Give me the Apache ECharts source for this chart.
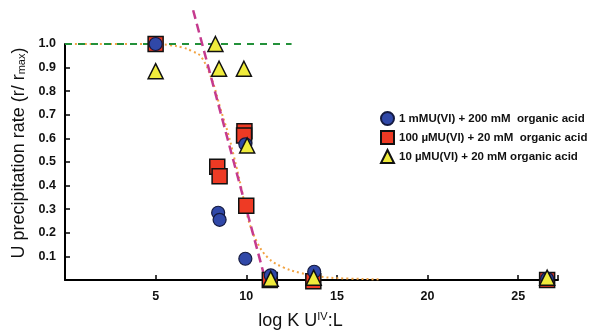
<!DOCTYPE html>
<html>
<head>
<meta charset="utf-8">
<script src="https://cdn.jsdelivr.net/npm/echarts@6/dist/echarts.min.js"></script>
<style>
  html, body { margin: 0; padding: 0; background: #fff; }
  #chart { width: 600px; height: 335px; }
</style>
</head>
<body>
<div id="chart"></div>
<script>
// data: [log K, r/rmax]
var circles1mM = [[5, 1.0], [8.45, 0.285], [8.53, 0.255], [9.95, 0.09], [9.95, 0.575], [11.35, 0.02], [13.75, 0.035], [26.6, 0.005]];
var squares100uM = [[5, 1.0], [8.4, 0.48], [8.53, 0.44], [9.9, 0.63], [9.88, 0.612], [10.0, 0.315], [11.3, 0.0], [13.7, -0.005], [26.6, 0.0]];
var triangles10uM = [[5, 0.885], [8.3, 1.0], [8.5, 0.895], [9.87, 0.895], [10.05, 0.57], [11.35, 0.005], [13.72, 0.01], [26.6, 0.01]];
var greenLine = [[0, 1.0], [12.5, 1.0]];
var magentaLine = [[7.07, 1.143], [10.95, 0.03]];
var orangeCurve = [[0, 1.0], [5, 1.0], [5.8, 0.995], [6.5, 0.985], [7.0, 0.97], [7.5, 0.947], [8.1, 0.85], [8.6, 0.72], [9.0, 0.62],
  [9.3, 0.53], [9.7, 0.4], [10.1, 0.26], [10.6, 0.16], [11.2, 0.094], [12.0, 0.055], [13.0, 0.03], [14.0, 0.015], [15.0, 0.008], [17.3, 0.003]];
var legendNames = ['1 mMU(VI) + 200 mM  organic acid', '100 \u00b5MU(VI) + 20 mM  organic acid', '10 \u00b5MU(VI) + 20 mM organic acid'];

var myChart = echarts.init(document.getElementById('chart'));
var option = {
  backgroundColor: '#fff',
  animation: false,
  textStyle: { fontFamily: 'Liberation Sans, Arial, sans-serif' },
  grid: { left: 65, right: 42, top: 44, bottom: 53 },
  legend: {
    orient: 'vertical', left: 375, top: 106, itemWidth: 13, itemHeight: 13, itemGap: 4,
    textStyle: { fontSize: 11.5, fontWeight: 'bold', color: '#111' },
    data: [
      { name: legendNames[0], icon: 'circle' },
      { name: legendNames[1], icon: 'rect' },
      { name: legendNames[2], icon: 'triangle' }
    ]
  },
  xAxis: {
    type: 'value', min: 0, max: 27.2, interval: 5,
    name: 'log K U{sup|IV}:L', nameLocation: 'middle', nameGap: 31,
    nameTextStyle: {
      fontSize: 18, color: '#111', padding: [0, 22, 0, 0],
      rich: { sup: { fontSize: 11, verticalAlign: 'top', padding: [0, 0, 9, 0], color: '#111' } }
    },
    axisLine: { lineStyle: { color: '#000', width: 2 } },
    axisTick: { inside: true, length: 5, lineStyle: { color: '#000', width: 1.5 } },
    axisLabel: {
      fontSize: 12.5, fontWeight: 'bold', color: '#111', margin: 10,
      formatter: function (v) { return (v > 0 && v % 5 === 0) ? String(v) : ''; }
    },
    splitLine: { show: false }
  },
  yAxis: {
    type: 'value', min: 0, max: 1.0, interval: 0.1,
    name: 'U precipitation rate (r/ r{sub|max})', nameLocation: 'middle', nameGap: 36, nameRotate: 90,
    nameTextStyle: {
      fontSize: 18, color: '#111', padding: [0, 0, 0, 18],
      rich: { sub: { fontSize: 11, verticalAlign: 'bottom', padding: [7, 0, 0, 0], color: '#111' } }
    },
    axisLine: { lineStyle: { color: '#000', width: 2 } },
    axisTick: { inside: true, length: 5, lineStyle: { color: '#000', width: 1.5 } },
    axisLabel: {
      fontSize: 12.5, fontWeight: 'bold', color: '#111', margin: 9,
      formatter: function (v) { return v > 0 ? v.toFixed(1) : ''; }
    },
    splitLine: { show: false }
  },
  series: [
    {
      type: 'line', data: orangeCurve, symbol: 'none', smooth: 0.4, clip: false, z: 2,
      lineStyle: { color: '#f2a444', width: 2, type: [2, 3] }
    },
    {
      type: 'line', data: greenLine, symbol: 'none', clip: false, z: 2,
      lineStyle: { color: '#23913a', width: 2, type: [7, 6] }
    },
    {
      type: 'line', data: magentaLine, symbol: 'none', clip: false, z: 2,
      lineStyle: { color: '#c53a8e', width: 2.5, type: [9, 5] }
    },
    {
      name: legendNames[1], type: 'scatter', data: squares100uM, symbol: 'rect', symbolSize: 15, clip: false, z: 3,
      itemStyle: { color: '#ee3a24', borderColor: '#111', borderWidth: 1.5, opacity: 1 }
    },
    {
      name: legendNames[0], type: 'scatter', data: circles1mM, symbol: 'circle', symbolSize: 13, clip: false, z: 4,
      itemStyle: { color: '#3048a8', borderColor: '#141a40', borderWidth: 1.2, opacity: 1 }
    },
    {
      name: legendNames[2], type: 'scatter', data: triangles10uM, symbol: 'triangle', symbolSize: 15, clip: false, z: 5,
      itemStyle: { color: '#f0ec3c', borderColor: '#111', borderWidth: 1.5, opacity: 1 }
    }
  ]
};
myChart.setOption(option);
window.onresize = myChart.resize;
</script>
</body>
</html>
